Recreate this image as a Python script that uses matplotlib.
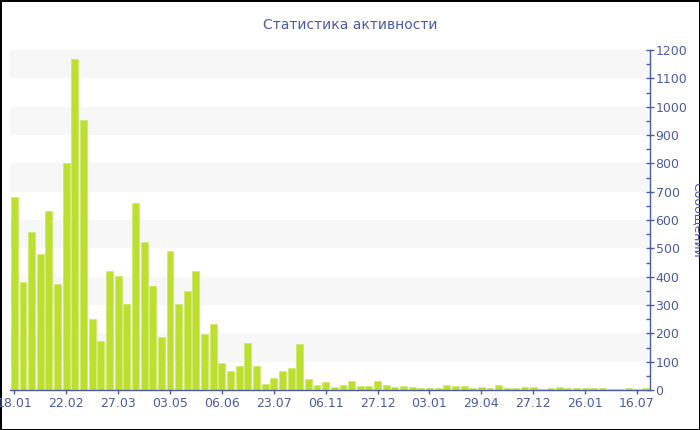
import matplotlib
matplotlib.use("Agg")
import matplotlib.pyplot as plt
from matplotlib.ticker import MultipleLocator


# Data
values = [680, 380, 558, 480, 631, 375, 801, 1170, 953, 252,
          172, 421, 404, 303, 659, 521, 366, 186, 491, 303,
          348, 420, 197, 233, 95, 66, 84, 166, 83, 21,
          42, 67, 76, 164, 38, 18, 28, 9, 18, 32,
          13, 13, 33, 16, 9, 14, 11, 6, 7, 6,
          19, 14, 14, 7, 10, 7, 16, 7, 7, 10,
          10, 5, 7, 9, 7, 7, 6, 6, 7, 5,
          5, 7, 5, 8]
tick_labels = ["18.01", "22.02", "27.03", "03.05", "06.06", "23.07", "06.11",
               "27.12", "03.01", "29.04", "27.12", "26.01", "16.07"]
title = "Статистика активности"
y_label = "Сообщений"

text_color = "#4a5ca6"
bar_color = "#bde030"

fig = plt.figure(figsize=(7, 4.3), dpi=100, edgecolor="black", linewidth=2)
ax = fig.add_axes([10 / 700, 40 / 430, 640 / 700, 340 / 430])

# light bands
for lo in range(100, 1200, 200):
    ax.axhspan(lo, lo + 100, color="#f7f7f7", zorder=0, lw=0)

x = list(range(len(values)))
ax.bar(x, values, width=0.8, color=bar_color, edgecolor="#cfe86a", linewidth=0.5, zorder=2)

ax.set_xlim(-0.5, len(values) - 0.5)
ax.set_ylim(0, 1200)

ax.set_xticks(x[::6])
ax.set_xticklabels(tick_labels)

ax.yaxis.tick_right()
ax.yaxis.set_label_position("right")
ax.yaxis.set_major_locator(MultipleLocator(100))
ax.yaxis.set_minor_locator(MultipleLocator(50))

for s in ["top", "left"]:
    ax.spines[s].set_visible(False)
for s in ["right", "bottom"]:
    ax.spines[s].set_color(text_color)
    ax.spines[s].set_linewidth(1)

ax.tick_params(axis="y", which="major", direction="inout", length=6, width=1,
               colors=text_color, labelsize=9, pad=1)
ax.tick_params(axis="y", which="minor", direction="in", length=3, width=1, colors=text_color)
ax.tick_params(axis="x", direction="out", length=3, width=1, colors=text_color,
               labelsize=9, pad=2)

ax.set_ylabel(y_label, rotation=270, va="center", ha="center", color=text_color, fontsize=9)
ax.yaxis.set_label_coords(1.074, 0.5)

fig.text(0.5, 1 - 25 / 430, title, ha="center", va="center", color=text_color, fontsize=10)

fig.savefig("out.png", dpi=100, edgecolor=fig.get_edgecolor())
